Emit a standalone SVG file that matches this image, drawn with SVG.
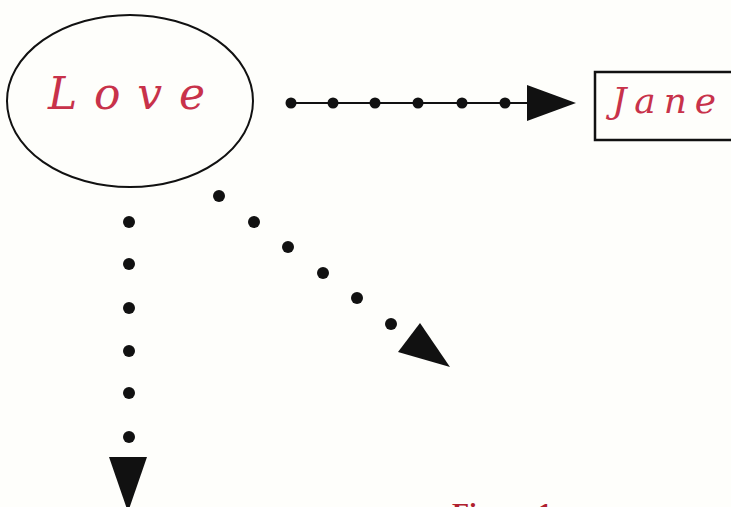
<svg xmlns="http://www.w3.org/2000/svg" width="731" height="507" viewBox="0 0 731 507">
<style>
.script{font-family:"DejaVu Serif","Liberation Serif",serif;font-style:italic;fill:#c8324a}
.dot{fill:#111}
.head{fill:#111}
.line{stroke:#111;stroke-width:2;fill:none}
.cap{font-family:"Liberation Serif",serif;font-weight:bold;fill:#b0202e}
</style>
<rect width="731" height="507" fill="#fefefb"/>
<g id="love">
<ellipse cx="130" cy="101" rx="123" ry="86" fill="none" stroke="#111" stroke-width="2"/>
<text class="script" x="48" y="109" font-size="44" textLength="157" lengthAdjust="spacing">Love</text>
</g>
<g id="jane">
<rect x="595" y="72" width="145" height="68" fill="none" stroke="#111" stroke-width="2.5"/>
<text class="script" x="612" y="113" font-size="36" textLength="104" lengthAdjust="spacing">Jane</text>
</g>
<g id="connectors">
<line class="line" x1="291" y1="103" x2="530" y2="103"/>
<circle class="dot" cx="291" cy="103" r="5.5"/>
<circle class="dot" cx="333" cy="103" r="5.5"/>
<circle class="dot" cx="375" cy="103" r="5.5"/>
<circle class="dot" cx="418" cy="103" r="5.5"/>
<circle class="dot" cx="462" cy="103" r="5.5"/>
<circle class="dot" cx="505" cy="103" r="5.5"/>
<polygon class="head" points="527,85 576,103 527,121"/>
<circle class="dot" cx="129" cy="222" r="6"/>
<circle class="dot" cx="129" cy="264" r="6"/>
<circle class="dot" cx="129" cy="308" r="6"/>
<circle class="dot" cx="129" cy="351" r="6"/>
<circle class="dot" cx="129" cy="393" r="6"/>
<circle class="dot" cx="129" cy="437" r="6"/>
<polygon class="head" points="109,457 147,457 128,512"/>
<circle class="dot" cx="219" cy="196" r="6"/>
<circle class="dot" cx="254" cy="222" r="6"/>
<circle class="dot" cx="288" cy="247" r="6"/>
<circle class="dot" cx="323" cy="273" r="6"/>
<circle class="dot" cx="357" cy="298" r="6"/>
<circle class="dot" cx="391" cy="324" r="6"/>
<polygon class="head" points="420,323 398,352 450,367"/>
</g>
<text class="cap" x="452" y="522" font-size="28">Figure 1</text>
</svg>
